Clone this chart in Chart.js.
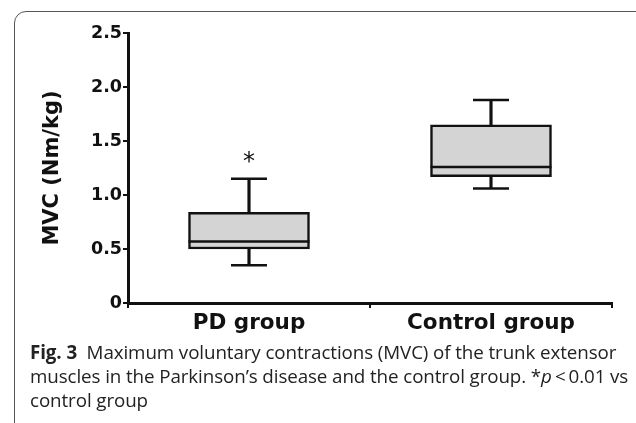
<!DOCTYPE html>
<html>
<head>
<meta charset="utf-8">
<script src="https://cdn.jsdelivr.net/npm/chart.js@4/dist/chart.umd.min.js"></script>
<style>
  html, body { margin: 0; padding: 0; background: #fff; }
  body { width: 636px; height: 423px; position: relative; overflow: hidden; }
  #frame { position: absolute; left: 14px; top: 11px; width: 640px; height: 440px;
           border: 1px solid #555; border-radius: 12px; box-sizing: border-box; }
  #wrap { position: absolute; left: 0; top: 0; width: 636px; height: 340px; }
  .cap { position: absolute; left: 30px; font-family: "Open Sans", sans-serif; font-size: 18.8px;
         line-height: 25px; color: #222; white-space: nowrap; letter-spacing: -0.1px; }
  .cap b { font-weight: 700; }
</style>
</head>
<body>
<div id="frame"></div>
<div id="wrap"><canvas id="graficoMVC" width="636" height="340"></canvas></div>
<div class="cap" style="top:340px"><b>Fig. 3</b>&nbsp; Maximum voluntary contractions (MVC) of the trunk extensor</div>
<div class="cap" style="top:364px">muscles in the Parkinson’s disease and the control group. *<i>p</i>&thinsp;&lt;&thinsp;0.01 vs</div>
<div class="cap" style="top:388px">control group</div>
<script>
// dados (Nm/kg)
const grupos = ['PD group', 'Control group'];
const minimos = [0.35, 1.06];
const q1 = [0.50, 1.17];
const medianas = [0.57, 1.26];
const q3 = [0.84, 1.65];
const maximos = [1.15, 1.88];
const significancia = [1.34, null];
const yTicks = [0, 0.5, 1.0, 1.5, 2.0, 2.5];

// Asterisco de significância
const asteriscoPlugin = {
    id: 'asterisco',
    afterDatasetsDraw(chart) {
        const { ctx, scales } = chart;
        ctx.save();
        ctx.fillStyle = '#111';
        ctx.font = '24px "DejaVu Sans"';
        ctx.textAlign = 'center';
        ctx.textBaseline = 'middle';
        significancia.forEach((v, i) => {
            if (v === null) return;
            ctx.fillText('*', scales.x.getPixelForValue(i), scales.y.getPixelForValue(v) + 4);
        });
        ctx.restore();
    }
};

const ctx = document.getElementById('graficoMVC').getContext('2d');
new Chart(ctx, {
    type: 'bar',
    data: {
        labels: grupos,
        datasets: [
            {
                label: 'Caixa',
                data: grupos.map((g, i) => [q1[i], q3[i]]),
                backgroundColor: '#d4d4d4',
                borderColor: '#111',
                borderWidth: 2.5,
                borderSkipped: false,
                barThickness: 121,
                grouped: false,
                order: 2
            },
            {
                label: 'Bigode inferior',
                data: grupos.map((g, i) => [minimos[i], q1[i]]),
                backgroundColor: '#111',
                borderWidth: 0,
                barThickness: 2.5,
                grouped: false,
                order: 3
            },
            {
                label: 'Bigode superior',
                data: grupos.map((g, i) => [q3[i], maximos[i]]),
                backgroundColor: '#111',
                borderWidth: 0,
                barThickness: 2.5,
                grouped: false,
                order: 3
            },
            {
                type: 'line',
                label: 'Mediana',
                data: medianas,
                showLine: false,
                pointStyle: 'line',
                pointRadius: 60.5,
                pointBorderWidth: 2.5,
                pointBorderColor: '#111',
                order: 1
            },
            {
                type: 'line',
                label: 'Mínimo',
                data: minimos,
                showLine: false,
                pointStyle: 'line',
                pointRadius: 18,
                pointBorderWidth: 2.5,
                pointBorderColor: '#111',
                order: 1
            },
            {
                type: 'line',
                label: 'Máximo',
                data: maximos,
                showLine: false,
                pointStyle: 'line',
                pointRadius: 18,
                pointBorderWidth: 2.5,
                pointBorderColor: '#111',
                order: 1
            }
        ]
    },
    options: {
        responsive: false,
        animation: false,
        events: [],
        layout: { autoPadding: false, padding: { left: 0, right: 24, top: 33, bottom: 0 } },
        plugins: { legend: { display: false }, tooltip: { enabled: false } },
        scales: {
            x: {
                offset: true,
                border: { color: '#111', width: 3 },
                grid: { offset: true, drawOnChartArea: false, drawTicks: true, tickLength: 5, color: '#111', lineWidth: 2 },
                ticks: { color: '#111', padding: 3, font: { family: 'DejaVu Sans', weight: 'bold', size: 21.5 } },
                afterFit: s => { s.height = 37; }
            },
            y: {
                min: 0,
                max: 2.5,
                afterBuildTicks: s => { s.ticks = yTicks.map(v => ({ value: v })); },
                border: { color: '#111', width: 3 },
                grid: { drawOnChartArea: false, drawTicks: true, tickLength: 5, color: '#111', lineWidth: 2 },
                ticks: {
                    color: '#111',
                    padding: 1,
                    font: { family: 'DejaVu Sans', weight: 'bold', size: 17.5 },
                    callback: v => v === 0 ? '0' : v.toFixed(1)
                },
                title: {
                    display: true,
                    text: 'MVC (Nm/kg)',
                    color: '#111',
                    padding: { top: 40, bottom: 0 },
                    font: { family: 'DejaVu Sans', weight: 'bold', size: 21 }
                },
                afterFit: s => { s.width = 128; }
            }
        }
    },
    plugins: [asteriscoPlugin]
});
</script>
</body>
</html>
